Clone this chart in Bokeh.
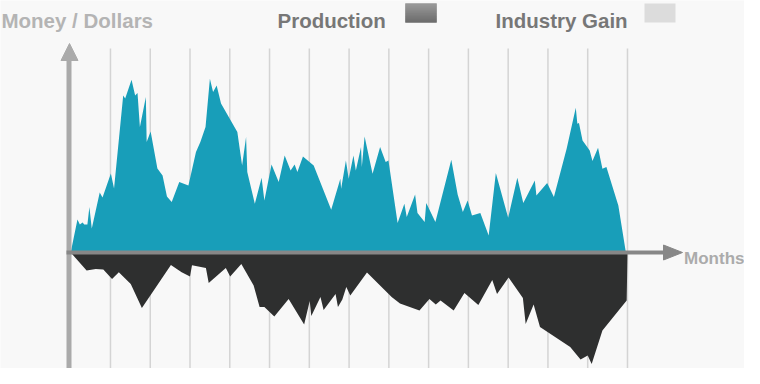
from bokeh.plotting import figure
from bokeh.models import Range1d
from bokeh.core.properties import value
from bokeh.embed import file_html
from bokeh.resources import INLINE

# ---------------- data ----------------
gain_months = [0.00,0.17,0.23,0.30,0.34,0.42,0.47,0.53,0.63,0.73,
               0.80,1.01,1.09,1.32,1.37,1.53,1.62,1.68,1.74,1.89,
               1.91,2.01,2.18,2.31,2.42,2.54,2.73,2.96,3.15,3.26,
               3.39,3.50,3.58,3.67,3.78,4.19,4.31,4.41,4.44,4.63,
               4.80,4.87,5.05,5.23,5.38,5.53,5.63,5.70,5.84,6.11,
               6.55,6.78,6.80,6.92,6.99,7.11,7.17,7.30,7.32,7.39,
               7.59,7.78,7.92,7.99,8.22,8.39,8.45,8.66,8.72,8.90,
               8.94,9.17,9.57,9.73,9.86,9.98,10.09,10.30,10.51,10.69,
               11.00,11.23,11.38,11.67,11.71,11.98,12.15,12.47,12.70,12.74,
               12.78,12.87,13.05,13.12,13.26,13.37,13.47,13.77,13.96]
gain_values = [0,16.5,14,15,14,14,22.7,12,21,30,
               27.5,39.5,32,78.5,77,86.4,78.5,79.7,62.7,77.7,
               55.2,60.5,42,38.5,28,25.2,35.2,33.5,50.2,55.2,
               62.7,86.9,80.2,83.5,74.5,60.2,43.5,57.7,40.2,24.4,
               37.4,26,44,35.2,48.5,41,44,40.2,48,43.5,
               21.4,36.9,31.9,46,36.9,48.5,41,52.7,42.7,58,
               39.4,52.7,45.2,46,14.7,24.4,17.7,29,19.7,15.2,
               24.7,15.2,46.4,29,20.2,26,18.5,19.7,8.5,39.7,
               17.4,37.4,24.7,36,28.5,34.7,27.7,51.9,72.4,64.4,
               64.7,56,51,45.7,52.4,41.9,42.7,23.5,0]

prod_months = [0.00,0.40,0.63,0.82,1.04,1.21,1.51,1.79,2.52,2.79,
               3.00,3.05,3.40,3.47,3.90,4.01,4.29,4.60,4.75,4.87,
               5.12,5.48,5.87,6.01,6.05,6.28,6.36,6.66,6.72,6.83,
               6.93,7.03,7.45,8.07,8.28,8.77,9.02,9.18,9.30,9.63,
               9.90,10.25,10.60,10.72,11.01,11.37,11.44,11.64,11.80,12.56,
               12.82,13.00,13.10,13.37,13.98,14.00]
prod_values = [0,-9,-8.2,-8.5,-13.2,-9.9,-15.7,-27.7,-6.2,-9.9,
               -12,-6.4,-7.7,-15.2,-7.7,-12,-5.8,-16.5,-27.2,-27.3,
               -32,-23.2,-36,-24.2,-31.7,-22.3,-28.7,-20.8,-27.3,-23.5,
               -17.3,-21.5,-10,-22.3,-25.5,-29,-23.2,-26,-24,-29,
               -20.3,-26.2,-13.7,-20.8,-12.5,-22.7,-35.7,-26,-37.2,-47.3,
               -53.5,-51.5,-55.8,-39,-24,0]

grid_months = [1,2,3,4,5,6,7,8,9,10,11,12,13,14]

title_y = "Money / Dollars"
title_x = "Months"
series_names = ["Production", "Industry Gain"]

# ---------------- layout helpers (canvas pixels -> data) ----------------
X0, DX, Y0, DY = 70.2, 39.77, 252.0, 2.0
def px(xp):
    return (xp - X0) / DX
def py(yp):
    return (Y0 - yp) / DY

W, H = 744, 368
BG = "#f8f8f8"
TEAL = "#189eb9"
DARK = "#2e2f2f"

p = figure(width=W, height=H,
           x_range=Range1d(px(0), px(W)), y_range=Range1d(py(H), py(0)),
           output_backend="svg", toolbar_location=None,
           x_axis_type=None, y_axis_type=None, min_border=0)
p.outline_line_color = None
p.background_fill_color = BG
p.border_fill_color = BG

# vertical grid lines
p.segment(x0=grid_months, y0=[py(48)] * len(grid_months),
          x1=grid_months, y1=[py(400)] * len(grid_months),
          line_color="#d4d4d4", line_width=1.5)

# areas
p.varea(x=gain_months, y1=0, y2=gain_values, fill_color=TEAL)
p.varea(x=prod_months, y1=0, y2=prod_values, fill_color=DARK)

# y axis with arrow
p.segment(x0=[px(68.5)], y0=[py(58)], x1=[px(68.5)], y1=[py(400)],
          line_color="#aaaaaa", line_width=5)
p.patch([px(60.5), px(69), px(77.5)], [py(60), py(43), py(60)],
        fill_color="#aaaaaa", line_color="#aaaaaa")

# x axis with arrow
p.segment(x0=[px(66)], y0=[0], x1=[px(665)], y1=[0],
          line_color="#878787", line_width=4)
p.patch([px(663), px(682), px(663)], [py(244.5), py(252), py(259.5)],
        fill_color="#878787", line_color="#878787")

FONT = value("Liberation Sans")

p.text(x=[px(1)], y=[py(19.5)], text=[title_y], text_font=FONT,
       text_font_style="bold", text_font_size="20.5px", text_color="#b4b4b4",
       text_baseline="alphabetic", text_align="left")
p.text(x=[px(277), px(495)], y=[py(19.5), py(19.5)], text=series_names,
       text_font=FONT, text_font_style="bold", text_font_size="20.5px",
       text_color="#777777", text_baseline="alphabetic", text_align="left")
p.text(x=[px(744)], y=[py(258)], text=[title_x], text_font=FONT,
       text_font_style="bold", text_font_size="17px", text_color="#ababab",
       text_baseline="alphabetic", text_align="right")

# legend swatches
n = 19
tops, bots, cols = [], [], []
for i in range(n):
    t = i / (n - 1)
    c = int(round(0x90 + (0x60 - 0x90) * t))
    cols.append("#%02x%02x%02x" % (c, c, c))
    tops.append(py(3 + i))
    bots.append(py(4 + i))
p.quad(left=[px(405)] * n, right=[px(436)] * n, top=tops, bottom=bots,
       fill_color=cols, line_color=cols, line_width=0.4)
p.quad(left=[px(644)], right=[px(675)], top=[py(3)], bottom=[py(22)],
       fill_color="#dcdcdc", line_color=None)

open("out.html", "w").write(file_html(p, INLINE))
